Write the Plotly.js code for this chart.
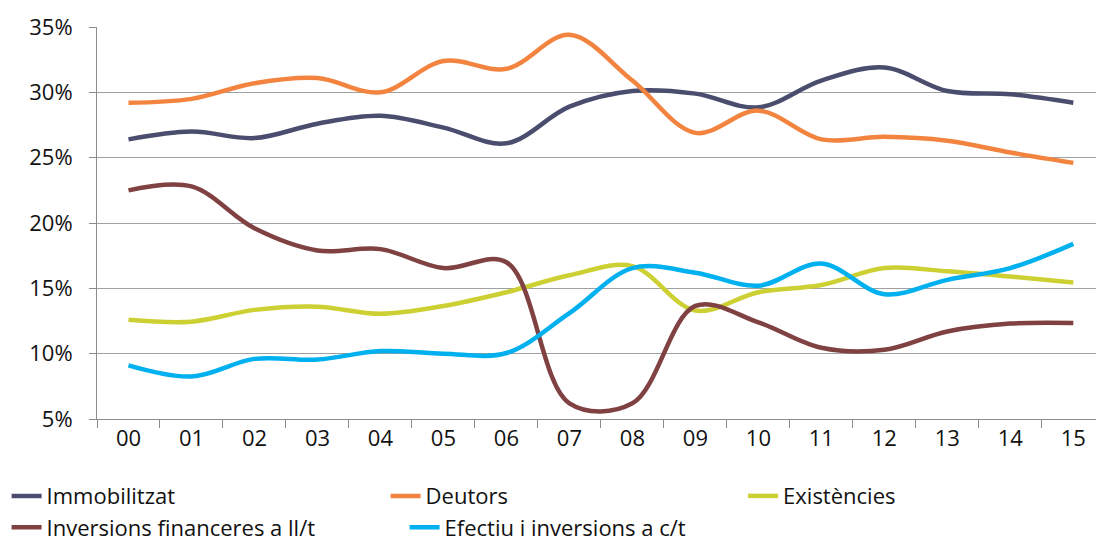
<!DOCTYPE html>
<html>
<head>
<meta charset="utf-8">
<script src="https://cdn.plot.ly/plotly-3.0.1.min.js"></script>
<style>
  body { margin: 0; background: #fff; }
  #chart { width: 1096px; height: 541px; }
</style>
</head>
<body>
<div id="chart"></div>
<script>
// years (two digit labels)
const years = ["00", "01", "02", "03", "04", "05", "06", "07", "08", "09", "10", "11", "12", "13", "14", "15"];

// share of total assets, %
const immobilitzat = [26.4, 27.0, 26.5, 27.6, 28.2, 27.3, 26.1, 28.9, 30.1, 29.9, 28.85, 30.9, 31.9, 30.1, 29.85, 29.2];
const deutors = [29.2, 29.5, 30.7, 31.1, 30.0, 32.4, 31.8, 34.4, 30.9, 26.9, 28.6, 26.4, 26.6, 26.3, 25.4, 24.6];
const existencies = [12.6, 12.45, 13.35, 13.6, 13.05, 13.65, 14.7, 16.0, 16.7, 13.3, 14.7, 15.25, 16.55, 16.3, 15.9, 15.45];
const inversionsLlt = [22.5, 22.8, 19.6, 17.9, 18.0, 16.55, 17.0, 6.2, 6.2, 13.65, 12.4, 10.45, 10.3, 11.7, 12.3, 12.35];
const efectiu = [9.1, 8.25, 9.6, 9.55, 10.2, 10.0, 10.05, 13.1, 16.55, 16.2, 15.2, 16.9, 14.55, 15.65, 16.55, 18.4];

const FONT = "'Open Sans', Lato, sans-serif";

function serie(name, y, color, legend) {
  return {
    x: years,
    y: y,
    name: name,
    type: "scatter",
    mode: "lines",
    line: { color: color, width: 4.5, shape: "spline", smoothing: 1 },
    legend: legend,
  };
}

const data = [
  serie("Immobilitzat", immobilitzat, "#4a4d6d", "legend"),
  serie("Deutors", deutors, "#f2843f", "legend"),
  serie("Existències", existencies, "#cdd032", "legend3"),
  serie("Inversions financeres a ll/t", inversionsLlt, "#7f4141", "legend2"),
  serie("Efectiu i inversions a c/t", efectiu, "#00b0ef", "legend2"),
];

function legendAt(x, y, extra) {
  return Object.assign({
    orientation: "h",
    xref: "container",
    yref: "container",
    x: x,
    y: y,
    xanchor: "left",
    yanchor: "middle",
    traceorder: "normal",
    font: { family: FONT, size: 22, color: "#111111" },
    bgcolor: "rgba(0,0,0,0)",
  }, extra || {});
}

const layout = {
  width: 1096,
  height: 541,
  margin: { l: 97, r: 0, t: 27, b: 122 },
  paper_bgcolor: "#ffffff",
  plot_bgcolor: "#ffffff",
  font: { family: FONT, size: 22, color: "#111111" },
  xaxis: {
    type: "category",
    range: [-0.5, 15.36],
    tickson: "boundaries",
    ticks: "outside",
    ticklen: 8,
    tickcolor: "#8c8c8c",
    showgrid: false,
    showline: true,
    linecolor: "#8c8c8c",
    linewidth: 1,
    zeroline: false,
    fixedrange: true,
  },
  yaxis: {
    range: [5, 35],
    dtick: 5,
    ticksuffix: "%",
    ticks: "outside",
    ticklen: 7,
    tickcolor: "#8c8c8c",
    showgrid: true,
    gridcolor: "#a0a0a0",
    gridwidth: 1,
    showline: true,
    linecolor: "#8c8c8c",
    zeroline: false,
    ticklabelstandoff: 12,
    fixedrange: true,
  },
  showlegend: true,
  legend: legendAt(0.006, 0.083, { entrywidth: 334 }),
  legend3: legendAt(0.678, 0.083),
  legend2: legendAt(0.006, 0.025, { entrywidth: 353 }),
};

Plotly.newPlot("chart", data, layout, { displayModeBar: false, staticPlot: true });
</script>
</body>
</html>
